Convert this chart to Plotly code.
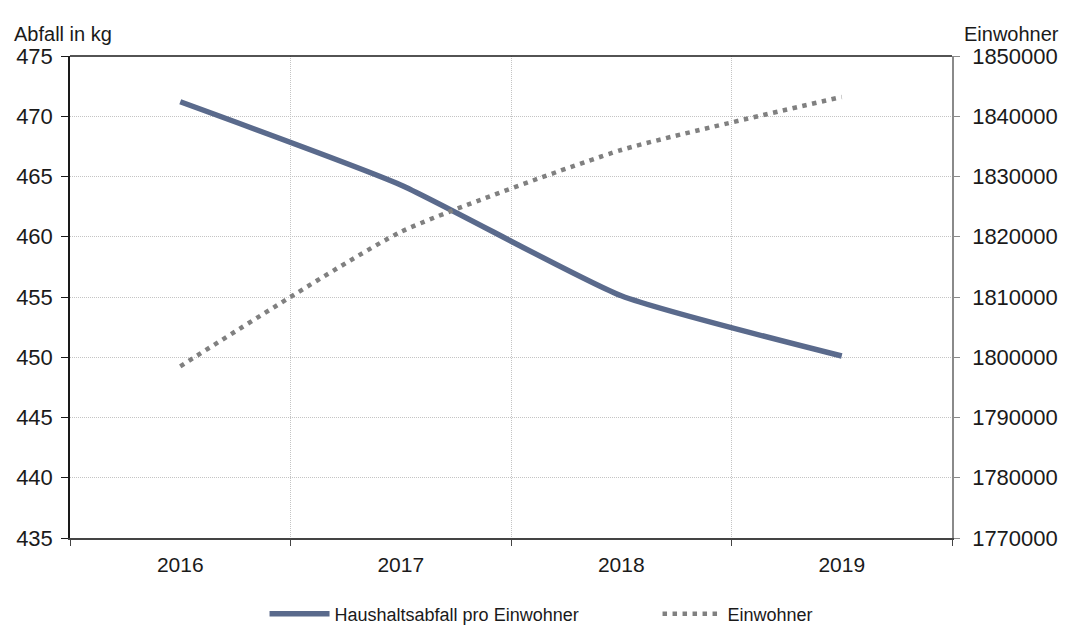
import plotly.graph_objects as go

years = ["2016", "2017", "2018", "2019"]
abfall = [471.2, 464.3, 455.1, 450.1]
einwohner = [1798500, 1820800, 1834400, 1843200]
left_ticks = [435, 440, 445, 450, 455, 460, 465, 470, 475]
right_ticks = [1770000, 1780000, 1790000, 1800000, 1810000, 1820000, 1830000, 1840000, 1850000]

FONT = "Liberation Sans, Arial, sans-serif"
GRID = "#c4c4c4"

fig = go.Figure()
fig.add_trace(go.Scatter(
    x=years, y=abfall, name="Haushaltsabfall pro Einwohner",
    mode="lines", line=dict(color="#5a6a8c", width=5.5, shape="spline", smoothing=0.5),
    yaxis="y"))
fig.add_trace(go.Scatter(
    x=years, y=einwohner, name="Einwohner",
    mode="lines", line=dict(color="#808080", width=4.5, dash="4.5px,5.5px", shape="spline", smoothing=0.5),
    yaxis="y2"))

fig.update_layout(
    width=1071, height=626,
    margin=dict(l=70, r=119, t=56, b=88, autoexpand=False),
    paper_bgcolor="white", plot_bgcolor="white",
    font=dict(family=FONT, color="#1a1a1a", size=18),
    showlegend=True,
    legend=dict(orientation="h", xref="container", yref="container",
                x=0.247, xanchor="left", y=1 - 614 / 626, yanchor="middle",
                font=dict(size=18), traceorder="normal",
                entrywidth=318, entrywidthmode="pixels", itemwidth=60),
    xaxis=dict(type="category", range=[-0.5, 3.5], tickson="boundaries",
               showgrid=True, gridcolor=GRID, griddash="1px,1px", gridwidth=1,
               showline=True, linecolor="#444444", linewidth=1.5,
               ticks="outside", ticklen=6, tickcolor="#444444",
               tickfont=dict(size=21), ticklabelstandoff=7, mirror=False),
    yaxis=dict(range=[435, 475], tickvals=left_ticks, showgrid=True,
               gridcolor=GRID, griddash="1px,1px", gridwidth=1,
               showline=True, linecolor="#1a1a1a", linewidth=1.5,
               ticks="outside", ticklen=7, tickcolor="#1a1a1a",
               tickfont=dict(size=22), ticklabelstandoff=4, zeroline=False),
    yaxis2=dict(range=[1770000, 1850000], tickvals=right_ticks, overlaying="y",
                side="right", showgrid=False, showline=True, linecolor="#8a8a8a",
                linewidth=1.5, ticks="outside", ticklen=6, tickcolor="#8a8a8a",
                tickfont=dict(size=22), ticklabelstandoff=8, tickformat="d", zeroline=False),
    shapes=[dict(type="line", xref="paper", yref="paper", x0=0, x1=1, y0=1, y1=1,
                 line=dict(color="#1a1a1a", width=1.5))],
    annotations=[
        dict(text="Abfall in kg", xref="paper", yref="paper", x=-58 / 882, y=1 + 22 / 482,
             xanchor="left", yanchor="middle", showarrow=False, font=dict(size=20)),
        dict(text="Einwohner", xref="paper", yref="paper", x=1 + 10 / 882, y=1 + 22 / 482,
             xanchor="left", yanchor="middle", showarrow=False, font=dict(size=20)),
    ],
)

fig.write_html("out.html", config={"displayModeBar": False},
               post_script="document.body.style.margin='0';")
